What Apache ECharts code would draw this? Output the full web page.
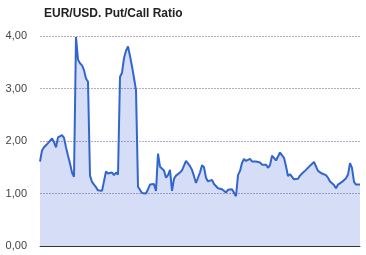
<!DOCTYPE html>
<html>
<head>
<meta charset="utf-8">
<script src="https://cdn.jsdelivr.net/npm/echarts@6/dist/echarts.min.js"></script>
<style>
html,body{margin:0;padding:0;background:#fff;}
#c{width:366px;height:255px;}
</style>
</head>
<body>
<div id="c"></div>
<script>
var title = 'EUR/USD. Put/Call Ratio';
var yTicks = [0, 1, 2, 3, 4];
var ratio = [
1.61,1.82,1.88,1.92,1.96,1.95,2.05,1.98,1.88,2.07,
2.08,2.11,2.06,1.88,1.72,1.57,1.40,1.32,3.98,3.55,
3.48,3.44,3.35,3.19,3.13,1.34,1.22,1.17,1.12,1.06,
1.04,1.05,1.06,1.42,1.38,1.39,1.40,1.35,1.40,1.36,
3.22,3.30,3.58,3.72,3.80,3.62,3.42,3.20,2.97,1.13,
1.10,1.01,1.03,1.00,1.08,1.17,1.19,1.18,1.05,1.76,
1.51,1.48,1.44,1.30,1.35,1.45,1.05,1.28,1.34,1.36,
1.40,1.44,1.53,1.62,1.59,1.52,1.45,1.33,1.20,1.18,
1.40,1.54,1.50,1.30,1.23,1.24,1.26,1.18,1.15,1.10,
1.11,1.08,1.09,1.02,1.07,1.04,1.08,1.05,0.95,1.35,
1.43,1.58,1.66,1.62,1.65,1.66,1.61,1.62,1.61,1.61,
1.59,1.55,1.56,1.55,1.49,1.54,1.72,1.70,1.63,1.65,
1.78,1.78,1.68,1.52,1.33,1.37,1.36,1.27,1.26,1.28,
1.34,1.38,1.41,1.45,1.47,1.53,1.56,1.60,1.60,1.43,
1.40,1.38,1.37,1.35,1.30,1.23,1.22,1.16,1.10,1.17,
1.20,1.22,1.25,1.29,1.36,1.58,1.49,1.22,1.17,1.17,
1.17
];
var categories = ratio.map(function(_, i){ return String(i); });

var chart = echarts.init(document.getElementById('c'), null, {renderer:'canvas'});
chart.setOption({
  animation: false,
  title: {
    text: title,
    left: 39, top: 3,
    textStyle: {fontFamily: 'Liberation Sans, Arial, sans-serif', fontSize: 12, fontWeight: 'bold', color: '#222'}
  },
  grid: {left: 40, right: 6, top: 36, bottom: 9, containLabel: false},
  xAxis: {
    type: 'category',
    data: categories,
    boundaryGap: false,
    axisLine: {show: true, lineStyle: {color: '#333', width: 1}},
    axisTick: {show: false},
    axisLabel: {show: false},
    splitLine: {show: false}
  },
  yAxis: {
    type: 'value',
    min: yTicks[0], max: yTicks[yTicks.length-1], interval: 1,
    axisLine: {show: false},
    axisTick: {show: false},
    axisLabel: {
      margin: 13,
      fontFamily: 'Liberation Sans, Arial, sans-serif', fontSize: 11, color: '#444',
      formatter: function(v){ return v.toFixed(2).replace('.', ','); }
    },
    splitLine: {show: true, lineStyle: {color: '#b8a8c4', type: [2, 1], width: 1}}
  },
  series: [{
    type: 'line',
    data: ratio,
    symbol: 'none',
    smooth: false,
    lineStyle: {color: '#3366cc', width: 2},
    areaStyle: {color: 'rgba(60,95,215,0.30)'},
    z: 1
  }]
});
</script>
</body>
</html>
